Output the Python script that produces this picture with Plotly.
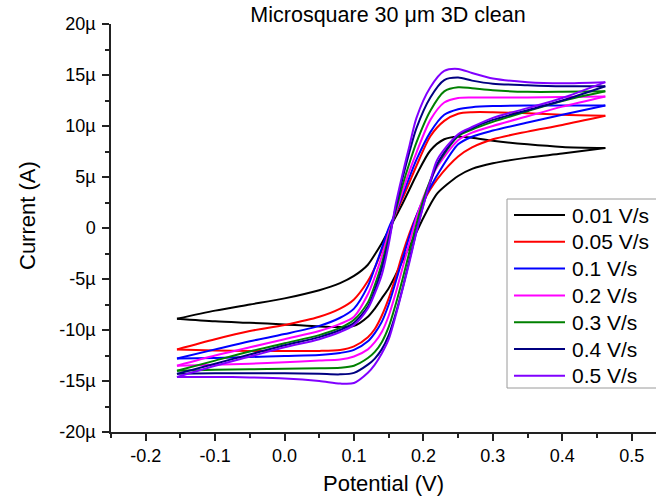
import plotly.graph_objects as go

# Potential grid (V) of the anodic-going and return sweeps
potential_fwd = [-0.155, -0.10, -0.05, 0.0, 0.05, 0.08, 0.10, 0.12, 0.13, 0.14, 0.15, 0.16,
                 0.17, 0.18, 0.19, 0.20, 0.21, 0.22, 0.25, 0.27, 0.30, 0.35, 0.40, 0.462]
potential_rev = [0.462, 0.40, 0.35, 0.30, 0.27, 0.25, 0.23, 0.21, 0.19, 0.18, 0.17, 0.16,
                 0.15, 0.14, 0.13, 0.12, 0.10, 0.08, 0.05, 0.0, -0.05, -0.10, -0.155]

# Current (µA) along the forward sweep
fwd_001 = [-8.9, -9.15, -9.3, -9.45, -9.65, -9.7, -9.6, -8.7, -7.9, -6.9, -5.9, -4.6,
           -3.2, -1.8, -0.4, 1.0, 2.3, 3.4, 5.1, 5.8, 6.35, 6.9, 7.3, 7.85]
fwd_005 = [-11.9, -12.0, -12.05, -12.05, -12.05, -11.95, -11.6, -10.7, -9.9, -8.6, -6.9, -4.8,
           -2.5, -0.5, 1.2, 2.6, 3.8, 4.8, 7.0, 7.9, 8.7, 9.45, 10.1, 11.0]
fwd_01 = [-12.8, -12.75, -12.65, -12.55, -12.45, -12.25, -11.95, -11.1, -10.3, -9.2, -7.5, -5.3,
          -3.0, -0.8, 1.2, 2.8, 4.0, 5.2, 8.2, 8.95, 9.55, 10.35, 11.1, 12.0]
fwd_02 = [-13.5, -13.4, -13.3, -13.15, -13.0, -12.9, -12.6, -11.9, -11.2, -10.2, -8.6, -6.4,
          -3.9, -1.4, 1.0, 3.0, 4.6, 6.0, 8.6, 9.35, 10.0, 10.95, 11.9, 12.9]
fwd_03 = [-14.0, -13.9, -13.85, -13.8, -13.75, -13.7, -13.5, -12.75, -12.15, -11.2, -9.7, -7.5,
          -5.0, -2.3, 0.4, 2.8, 4.7, 6.2, 9.0, 9.65, 10.4, 11.45, 12.45, 13.4]
fwd_04 = [-14.3, -14.25, -14.25, -14.25, -14.3, -14.35, -14.2, -13.4, -12.8, -11.9, -10.5, -8.4,
          -5.9, -3.1, -0.3, 2.3, 4.5, 6.3, 9.1, 9.8, 10.6, 11.55, 12.5, 13.9]
fwd_05 = [-14.6, -14.6, -14.65, -14.75, -15.0, -15.25, -15.2, -14.2, -13.4, -12.3, -10.9, -8.6,
          -6.0, -3.3, -0.4, 2.2, 4.6, 6.7, 9.2, 9.9, 10.8, 11.75, 12.75, 14.3]

# Current (µA) along the return sweep
rev_001 = [7.85, 7.95, 8.2, 8.55, 8.85, 8.95, 8.7, 7.6, 5.2, 3.8, 2.4, 1.1,
           -0.2, -1.5, -2.6, -3.6, -4.7, -5.4, -6.1, -6.9, -7.5, -8.1, -8.9]
rev_005 = [11.0, 11.1, 11.25, 11.35, 11.35, 11.2, 10.5, 9.0, 6.1, 4.5, 2.9, 1.4,
           -0.3, -2.2, -3.9, -5.2, -7.0, -7.9, -8.7, -9.5, -10.1, -10.9, -11.9]
rev_01 = [12.0, 12.0, 12.0, 11.95, 11.85, 11.65, 11.1, 9.4, 6.7, 5.0, 3.2, 1.5,
          0.0, -2.0, -3.9, -5.7, -7.9, -8.8, -9.6, -10.4, -11.1, -11.9, -12.8]
rev_02 = [12.9, 12.85, 12.8, 12.8, 12.8, 12.75, 12.3, 10.6, 7.4, 5.6, 3.6, 1.5,
          -0.5, -2.8, -4.8, -6.5, -8.7, -9.4, -10.1, -10.9, -11.7, -12.5, -13.5]
rev_03 = [13.4, 13.35, 13.35, 13.5, 13.7, 13.8, 13.4, 11.5, 8.4, 6.4, 4.2, 1.7,
          -0.9, -3.5, -5.6, -7.3, -9.0, -9.8, -10.5, -11.3, -12.1, -13.0, -14.0]
rev_04 = [13.9, 13.9, 14.0, 14.15, 14.45, 14.75, 14.5, 12.8, 9.8, 7.5, 4.9, 2.0,
          -1.2, -4.0, -6.1, -7.7, -9.3, -10.0, -10.7, -11.5, -12.4, -13.3, -14.3]
rev_05 = [14.3, 14.2, 14.3, 14.65, 15.2, 15.6, 15.4, 13.8, 10.8, 8.1, 5.3, 2.3,
          -1.6, -4.6, -6.4, -7.9, -9.5, -10.2, -10.9, -11.7, -12.6, -13.5, -14.6]

scan_rates = ["0.01 V/s", "0.05 V/s", "0.1 V/s", "0.2 V/s", "0.3 V/s", "0.4 V/s", "0.5 V/s"]
colors = ["#000000", "#FF0000", "#0000FF", "#FF00FF", "#008000", "#000080", "#8000FF"]
forward = [fwd_001, fwd_005, fwd_01, fwd_02, fwd_03, fwd_04, fwd_05]
reverse = [rev_001, rev_005, rev_01, rev_02, rev_03, rev_04, rev_05]

x_tickvals = [-0.2, -0.1, 0.0, 0.1, 0.2, 0.3, 0.4, 0.5]
x_ticktext = ["-0.2", "-0.1", "0.0", "0.1", "0.2", "0.3", "0.4", "0.5"]
y_tickvals = [-20, -15, -10, -5, 0, 5, 10, 15, 20]
y_ticktext = ["-20µ", "-15µ", "-10µ", "-5µ", "0", "5µ", "10µ", "15µ", "20µ"]

FONT = "Liberation Sans, Arial, Helvetica, sans-serif"
W, H = 656, 499
M_L, M_R, M_T, M_B = 111, 0, 24, 67
PLOT_W = W - M_L - M_R
PLOT_H = H - M_T - M_B


def px_to_paper_x(px):
    return (px - M_L) / PLOT_W


def px_to_paper_y(py):
    return (H - M_B - py) / PLOT_H


fig = go.Figure()
for name, color, fwd, rev in zip(scan_rates, colors, forward, reverse):
    for xs, ys in ((potential_fwd, fwd), (potential_rev, rev)):
        fig.add_trace(go.Scatter(
            x=xs, y=ys, mode="lines", name=name, legendgroup=name,
            showlegend=False,
            line=dict(color=color, width=2, shape="spline", smoothing=0.8),
            hoverinfo="skip",
        ))

# Legend panel: framed box with a line sample and label per scan rate
LEG_L, LEG_R, LEG_T, LEG_B = 507, 720, 199, 388
ROW0, ROW_STEP = 215, 26.8
SAMPLE_L, SAMPLE_R, TEXT_L = 514, 565, 570

shapes = [dict(type="rect", xref="paper", yref="paper", layer="above",
               x0=px_to_paper_x(LEG_L), x1=px_to_paper_x(LEG_R),
               y0=px_to_paper_y(LEG_B), y1=px_to_paper_y(LEG_T),
               line=dict(color="#9a9a9a", width=1), fillcolor="white")]
annotations = []
for i, (name, color) in enumerate(zip(scan_rates, colors)):
    yy = px_to_paper_y(ROW0 + i * ROW_STEP)
    shapes.append(dict(type="line", xref="paper", yref="paper", layer="above",
                       x0=px_to_paper_x(SAMPLE_L), x1=px_to_paper_x(SAMPLE_R),
                       y0=yy, y1=yy, line=dict(color=color, width=2)))
    annotations.append(dict(text=name, xref="paper", yref="paper",
                            x=px_to_paper_x(TEXT_L), y=yy, xanchor="left", yanchor="middle",
                            showarrow=False, font=dict(family=FONT, size=21, color="#000000")))

# Vertical axis title, set a little above the plot's mid-height
annotations.append(dict(text="Current (A)", xref="paper", yref="paper",
                        x=px_to_paper_x(27), y=px_to_paper_y(216),
                        xanchor="center", yanchor="middle", textangle=-90, showarrow=False,
                        font=dict(family=FONT, size=22, color="#000000")))

axis_common = dict(
    showline=True, linecolor="#222222", linewidth=1.5,
    ticks="outside", ticklen=7, tickwidth=1.5, tickcolor="#222222",
    showgrid=False, zeroline=False, mirror=False,
    tickfont=dict(family=FONT, size=18, color="#000000"),
)

fig.update_layout(
    width=W, height=H,
    margin=dict(l=M_L, r=M_R, t=M_T, b=M_B),
    paper_bgcolor="white", plot_bgcolor="white",
    showlegend=False,
    title=dict(text="Microsquare 30 μm 3D clean", x=388 / W, xref="container", xanchor="center",
               y=1 - 14 / H, yref="container", yanchor="middle",
               font=dict(family=FONT, size=21.5, color="#000000")),
    xaxis=dict(
        range=[-0.25, 0.535], tickmode="array", tickvals=x_tickvals, ticktext=x_ticktext,
        minor=dict(dtick=0.05, tick0=0, ticks="outside", ticklen=4, tickwidth=1.5,
                   tickcolor="#222222", showgrid=False),
        title=dict(text="Potential (V)", standoff=10,
                   font=dict(family=FONT, size=22, color="#000000")),
        **axis_common,
    ),
    yaxis=dict(
        range=[-20, 20], tickmode="array", tickvals=y_tickvals, ticktext=y_ticktext,
        minor=dict(dtick=2.5, tick0=0, ticks="outside", ticklen=4, tickwidth=1.5,
                   tickcolor="#222222", showgrid=False),
        ticklabelstandoff=3,
        **axis_common,
    ),
    shapes=shapes,
    annotations=annotations,
)

fig.write_html("out.html")
